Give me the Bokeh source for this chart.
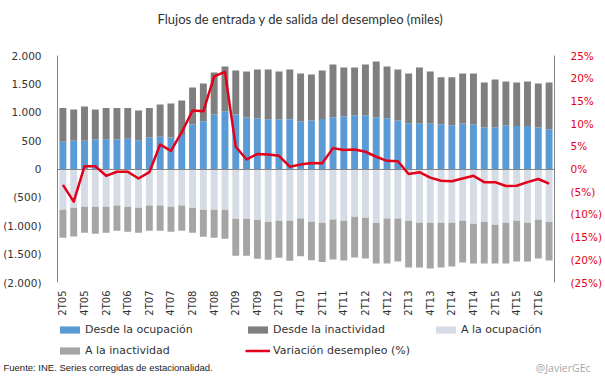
import math
from bokeh.plotting import figure
from bokeh.layouts import column
from bokeh.models import (ColumnDataSource, Range1d, LinearAxis, FixedTicker,
                          SingleIntervalTicker, CustomJSTickFormatter, Legend,
                          LegendItem, Label)
from bokeh.embed import file_html
from bokeh.resources import INLINE

trimestres = ["2T05", "3T05", "4T05", "1T06", "2T06", "3T06", "4T06", "1T07",
              "2T07", "3T07", "4T07", "1T08", "2T08", "3T08", "4T08", "1T09",
              "2T09", "3T09", "4T09", "1T10", "2T10", "3T10", "4T10", "1T11",
              "2T11", "3T11", "4T11", "1T12", "2T12", "3T12", "4T12", "1T13",
              "2T13", "3T13", "4T13", "1T14", "2T14", "3T14", "4T14", "1T15",
              "2T15", "3T15", "4T15", "1T16", "2T16", "3T16"]

desde_ocupacion = [482, 500, 500, 518, 523, 518, 535, 506, 553, 570,
                   553, 600, 785, 840, 959, 1018, 959, 906, 888, 876,
                   876, 876, 841, 856, 882, 912, 929, 947, 947, 912,
                   894, 853, 806, 806, 806, 788, 773, 803, 785, 732,
                   732, 768, 756, 759, 730, 700]
desde_inactividad = [594, 547, 600, 529, 553, 558, 541, 523, 523, 565,
                     600, 606, 650, 666, 741, 790, 776, 812, 865, 877,
                     842, 877, 841, 809, 853, 929, 859, 841, 894, 982,
                     912, 900, 876, 982, 912, 827, 842, 882, 900, 794,
                     847, 773, 768, 782, 776, 824]
a_ocupacion = [718, 682, 665, 665, 665, 641, 665, 682, 641, 641,
               665, 641, 682, 718, 718, 718, 876, 876, 894, 929,
               912, 912, 873, 929, 945, 891, 912, 841, 859, 947,
               873, 873, 912, 945, 947, 947, 947, 912, 965, 929,
               982, 947, 912, 947, 894, 929]
a_inactividad = [494, 506, 459, 476, 459, 447, 441, 442, 447, 447,
                 441, 447, 442, 476, 494, 511, 653, 653, 688, 671,
                 653, 706, 665, 677, 695, 703, 700, 718, 717, 718,
                 792, 756, 823, 790, 806, 788, 771, 735, 700, 736,
                 683, 718, 717, 682, 682, 683]
variacion_desempleo = [-3.5, -7.2, 0.6, 0.6, -1.5, -0.6, -0.6, -2.1, -0.7, 5.4,
                       4.0, 8.1, 12.9, 12.7, 20.4, 21.4, 4.9, 2.1, 3.3, 3.2,
                       2.9, 0.5, 1.0, 1.3, 1.25, 4.6, 4.2, 4.3, 3.8, 2.7,
                       1.8, 1.7, -1.1, -0.7, -1.9, -2.6, -2.7, -2.1, -1.5, -2.9,
                       -2.9, -3.75, -3.7, -2.9, -2.2, -3.2]

titulo = "Flujos de entrada y de salida del desempleo (miles)"
fuente = "Fuente: INE. Series corregidas de estacionalidad."
firma = "@JavierGEc"
series_nombres = ["Desde la ocupación", "Desde la inactividad", "A la ocupación",
                  "A la inactividad", "Variación desempleo (%)"]

C_OCUP = "#5B9BD5"
C_INACT = "#7F7F7F"
C_A_OCUP = "#D6DCE5"
C_A_INACT = "#A5A5A5"
C_RED = "#E2001A"
AXIS_GRAY = "#868686"
TXT = "#333333"
W = 605
NAN = float("nan")


def blank_strip(h):
    s = figure(width=W, height=h, output_backend="svg", toolbar_location=None,
               x_axis_type=None, y_axis_type=None, min_border=0,
               x_range=Range1d(0, 1), y_range=Range1d(0, 1), frame_align=False)
    s.outline_line_color = None
    s.xgrid.visible = False
    s.ygrid.visible = False
    return s


# ---- title strip
top = blank_strip(30)
top.add_layout(Label(x=300, y=12, x_units="screen", y_units="screen",
                     text=titulo, text_align="center", text_baseline="middle",
                     text_font="Lato", text_font_size="13px", text_color=TXT))

# ---- main chart
idx = list(range(len(trimestres)))
src = ColumnDataSource(dict(
    x=idx,
    ocup=desde_ocupacion,
    inact=desde_inactividad,
    a_ocup=[-v for v in a_ocupacion],
    a_inact=[-v for v in a_inactividad],
    var=variacion_desempleo,
))

p = figure(width=W, height=288, output_backend="svg", toolbar_location=None,
           x_range=Range1d(-0.5, len(trimestres) - 0.5),
           y_range=Range1d(-2000, 2000), frame_align=False,
           min_border_left=53, min_border_right=46, min_border_top=25,
           min_border_bottom=35)
p.outline_line_color = None
p.xgrid.visible = False
p.ygrid.visible = False
p.extra_y_ranges = {"pct": Range1d(-25, 25)}

p.vbar_stack(["ocup", "inact"], x="x", width=0.64, source=src,
             fill_color=[C_OCUP, C_INACT], line_color=None)
p.vbar_stack(["a_ocup", "a_inact"], x="x", width=0.64, source=src,
             fill_color=[C_A_OCUP, C_A_INACT], line_color=None)
p.hspan(y=[0], line_color=AXIS_GRAY, line_width=1)
p.line("x", "var", source=src, y_range_name="pct", line_color=C_RED,
       line_width=2.5, line_join="round")

ya = p.yaxis[0]
ya.ticker = SingleIntervalTicker(interval=500)
ya.formatter = CustomJSTickFormatter(code="""
const v = Math.abs(tick);
const s = v.toFixed(0).replace(/\\B(?=(\\d{3})+(?!\\d))/g, ".");
return tick < 0 ? "(" + s + ")" : s;
""")
ra = LinearAxis(y_range_name="pct", ticker=SingleIntervalTicker(interval=5))
ra.formatter = CustomJSTickFormatter(code="""
const v = Math.abs(tick);
return tick < 0 ? "(" + v + "%)" : v + "%";
""")
p.add_layout(ra, "right")
for ax, col in ((ya, TXT), (ra, C_RED)):
    ax.axis_line_color = AXIS_GRAY
    ax.major_tick_line_color = None
    ax.minor_tick_line_color = None
    ax.major_tick_out = 0
    ax.major_tick_in = 0
    ax.major_label_text_font = "DejaVu Sans"
    ax.major_label_text_font_size = "10.5px"
    ax.major_label_text_color = col
    ax.major_label_standoff = 12

xa = p.xaxis[0]
ticks = list(range(0, len(trimestres), 2))
xa.ticker = FixedTicker(ticks=ticks)
xa.major_label_overrides = {i: trimestres[i] for i in ticks}
xa.major_label_orientation = math.pi / 2
xa.axis_line_color = None
xa.major_tick_line_color = None
xa.minor_tick_line_color = None
xa.major_tick_out = 0
xa.major_tick_in = 0
xa.major_label_text_font = "DejaVu Sans"
xa.major_label_text_font_size = "10px"
xa.major_label_text_color = TXT
xa.major_label_standoff = 8

# ---- legend + footer strip (legend proxies share the series styles,
#      they hold no drawable data)
bot = blank_strip(60)
r_ocup = bot.vbar(x=[NAN], top=[NAN], width=1, fill_color=C_OCUP, line_color=None)
r_inact = bot.vbar(x=[NAN], top=[NAN], width=1, fill_color=C_INACT, line_color=None)
r_a_ocup = bot.vbar(x=[NAN], top=[NAN], width=1, fill_color=C_A_OCUP, line_color=None)
r_a_inact = bot.vbar(x=[NAN], top=[NAN], width=1, fill_color=C_A_INACT, line_color=None)
r_var = bot.line(x=[NAN], y=[NAN], line_color=C_RED, line_width=2.5)


def make_legend(pairs, loc):
    lg = Legend(items=[LegendItem(label=t, renderers=[r]) for t, r in pairs],
                location=loc, orientation="horizontal",
                glyph_width=25, glyph_height=9, label_standoff=3,
                label_width=160, label_height=12, spacing=0, padding=0,
                margin=0, border_line_color=None, background_fill_alpha=0,
                label_text_font="DejaVu Sans", label_text_font_size="11px",
                label_text_color=TXT)
    bot.add_layout(lg, "center")


make_legend(list(zip(series_nombres[:3], [r_ocup, r_inact, r_a_ocup])), (57, 42))
make_legend(list(zip(series_nombres[3:], [r_a_inact, r_var])), (57, 21))

bot.add_layout(Label(x=3, y=11, x_units="screen", y_units="screen",
                     text=fuente, text_align="left", text_baseline="middle",
                     text_font="Liberation Sans", text_font_size="9.5px",
                     text_color="#222222"))
bot.add_layout(Label(x=590, y=11, x_units="screen", y_units="screen",
                     text=firma, text_align="right", text_baseline="middle",
                     text_font="Open Sans", text_font_size="10.5px",
                     text_color="#A6A6A6"))

open("out.html", "w").write(file_html(column(top, p, bot, spacing=0), INLINE))
